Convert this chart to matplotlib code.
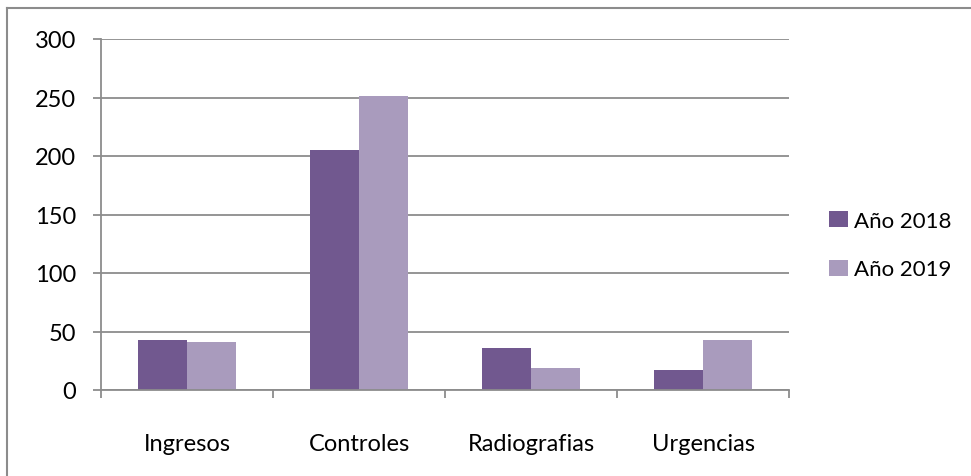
import matplotlib
matplotlib.use("Agg")
import matplotlib.pyplot as plt
import numpy as np
from matplotlib.lines import Line2D

categories = ["Ingresos", "Controles", "Radiografias", "Urgencias"]
series_names = ["Año 2018", "Año 2019"]
values_2018 = [43, 205, 36, 17]
values_2019 = [41, 251, 19, 43]
yticks = [0, 50, 100, 150, 200, 250, 300]

colors = ["#71588F", "#A99BBD"]
grid_color = "#8C8C8C"

plt.rcParams['font.family'] = ['Lato', 'DejaVu Sans']

fig = plt.figure(figsize=(9.71, 4.77), dpi=100)
ax = fig.add_axes([101/971, 1-391/477, (789-101)/971, (391-40)/477])

x = np.arange(len(categories))
w = 0.285
ax.bar(x - w/2, values_2018, width=w, color=colors[0], label=series_names[0], zorder=3)
ax.bar(x + w/2, values_2019, width=w, color=colors[1], label=series_names[1], zorder=3)

ax.set_xlim(-0.5, len(categories) - 0.5)
ax.set_ylim(0, 300)
ax.set_yticks(yticks)
ax.set_yticklabels([str(t) for t in yticks])
ax.yaxis.grid(True, color=grid_color, linewidth=1.3, zorder=0)
ax.set_axisbelow(True)

ax.set_xticks(x)
ax.set_xticklabels(categories)
ax.set_xticks(np.arange(len(categories) + 1) - 0.5, minor=True)
ax.tick_params(axis='x', which='major', length=0, pad=31, labelsize=17)
ax.tick_params(axis='x', which='minor', length=6, width=1.3, color=grid_color, direction='out')
ax.tick_params(axis='y', length=6, width=1.3, color=grid_color, direction='out', pad=12, labelsize=17)

for s in ["top", "right"]:
    ax.spines[s].set_visible(False)
for s in ["left", "bottom"]:
    ax.spines[s].set_color(grid_color)
    ax.spines[s].set_linewidth(1.3)
ax.spines["bottom"].set_zorder(4)

leg = ax.legend(loc="center left", bbox_to_anchor=(1.058, 0.413), frameon=False,
                borderaxespad=0, borderpad=0,
                fontsize=16, handlelength=0.85, handleheight=0.75, handletextpad=0.3,
                labelspacing=1.3)

# outer chart frame (top and left edges visible)
fig.add_artist(Line2D([7/971, 7/971], [0, 1-9/477], transform=fig.transFigure,
                      color="#8C8C8C", linewidth=1.5))
fig.add_artist(Line2D([7/971, 1], [1-9/477, 1-9/477], transform=fig.transFigure,
                      color="#8C8C8C", linewidth=1.5))

fig.savefig("out.png", dpi=100)
